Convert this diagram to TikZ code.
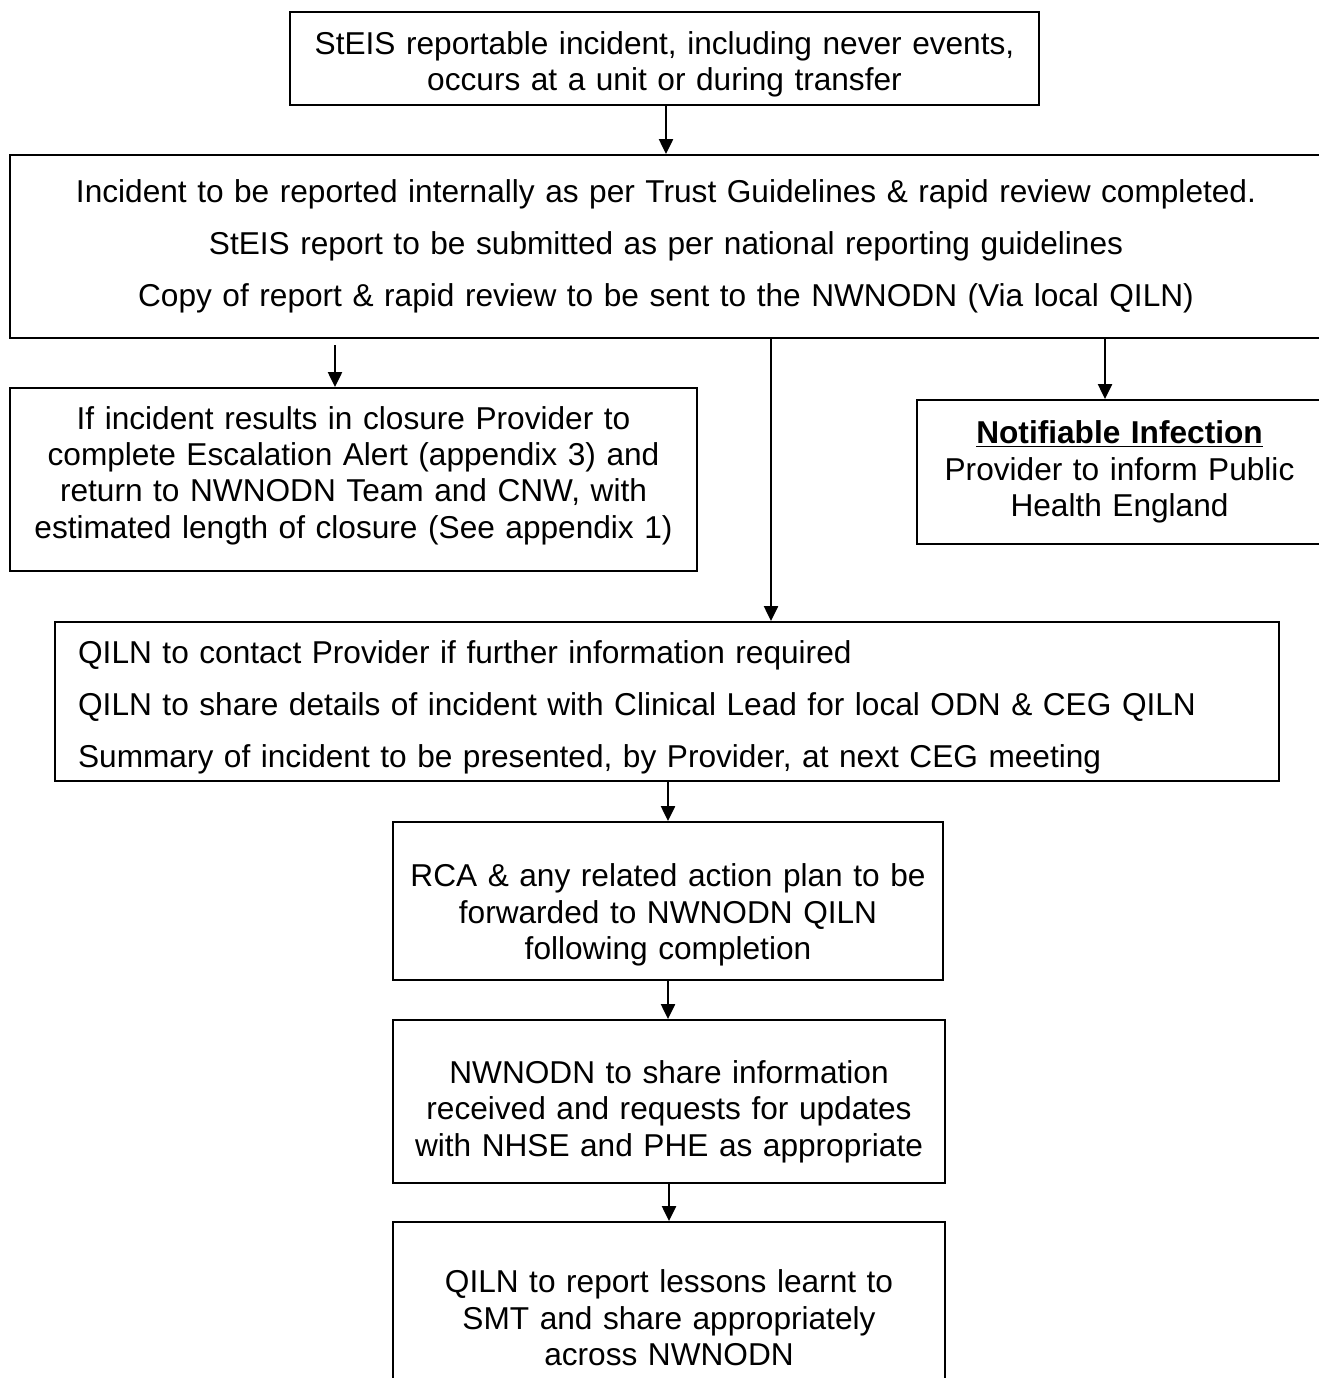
\documentclass[tikz,border=0pt]{standalone}
\usepackage{fontspec}
\setmainfont{Liberation Sans}
\usetikzlibrary{positioning,arrows.meta}

\begin{document}
\begin{tikzpicture}[
	% One unit is one pixel of the reference, y grows downwards.
	x=0.02cm, y=-0.02cm
	]
	% Define custom styles to make the code cleaner and more reusable.
	\tikzset{
		block/.style={draw, rectangle, line width=1.1pt, inner xsep=0pt, align=center,
			font=\fontsize{18}{20.7}\selectfont},
		sink/.style={execute at begin node={\rule{0pt}{#1}}}, % push the text down a little
		lift/.style={execute at end node={\rule[-#1]{0pt}{#1}}}, % push the text up a little
		line/.style={-{Triangle[width=8pt,length=8.5pt]}, line width=1.1pt}
	}
	\useasboundingbox (0,0) rectangle (1318,1378);
	
	% === NODES ===
	% Place the boxes from top to bottom.
	
	\node[block, sink=20pt, text width=14.98cm, minimum height=1.86cm] (incident) at (664.5,58.5)
		{StEIS reportable incident, including never events,\\ occurs at a unit or during transfer};
	\node[block, text width=26.24cm, minimum height=3.66cm] (report) at (666,246.5)
		{Incident to be reported internally as per Trust Guidelines \& rapid review completed.\\[9pt]
		 StEIS report to be submitted as per national reporting guidelines\\[9pt]
		 Copy of report \& rapid review to be sent to the NWNODN (Via local QILN)};
	\node[block, lift=8.3pt, text width=13.74cm, minimum height=3.66cm] (closure) at (353.5,479.5)
		{If incident results in closure Provider to\\ complete Escalation Alert (appendix 3) and\\
		 return to NWNODN Team and CNW, with\\ estimated length of closure (See appendix 1)};
	\node[block, text width=8.1cm, minimum height=2.88cm] (notify) at (1119.5,472)
		{\textbf{\underline{Notifiable Infection}}\\ Provider to inform Public\\ Health England};
	\node[block, sink=20pt, align=left, text width=23.56cm, inner xsep=0.46cm, minimum height=3.18cm] (qiln) at (667,701.5)
		{QILN to contact Provider if further information required\\[9pt]
		 QILN to share details of incident with Clinical Lead for local ODN \& CEG QILN\\[9pt]
		 Summary of incident to be presented, by Provider, at next CEG meeting};
	\node[block, sink=29pt, text width=11cm, minimum height=3.16cm] (rca) at (668,901)
		{RCA \& any related action plan to be\\ forwarded to NWNODN QILN\\ following completion};
	\node[block, sink=24.4pt, text width=11.04cm, minimum height=3.26cm] (share) at (669,1101.5)
		{NWNODN to share information\\ received and requests for updates\\ with NHSE and PHE as appropriate};
	\node[block, text width=11.04cm, minimum height=3.84cm] (lessons) at (669,1318)
		{QILN to report lessons learnt to\\ SMT and share appropriately\\ across NWNODN};
	
	% Free ends and columns of the branching arrows.
	\coordinate (leftstart) at (335,345);
	\coordinate (midcol) at (771,0);
	\coordinate (rightcol) at (1105,0);
	
	% === CONNECTIONS ===
	% Draw the lines and arrows connecting the boxes.
	
	\draw[line] (incident.south -| report.north) -- (report.north);
	\draw[line] (leftstart) -- (leftstart |- closure.north);
	\draw[line] (report.south -| midcol) -- (midcol |- qiln.north);
	\draw[line] (report.south -| rightcol) -- (rightcol |- notify.north);
	\draw[line] (qiln.south -| rca.north) -- (rca.north);
	\draw[line] (rca.south) -- (rca.south |- share.north);
	\draw[line] (share.south) -- (share.south |- lessons.north);
\end{tikzpicture}
\end{document}
